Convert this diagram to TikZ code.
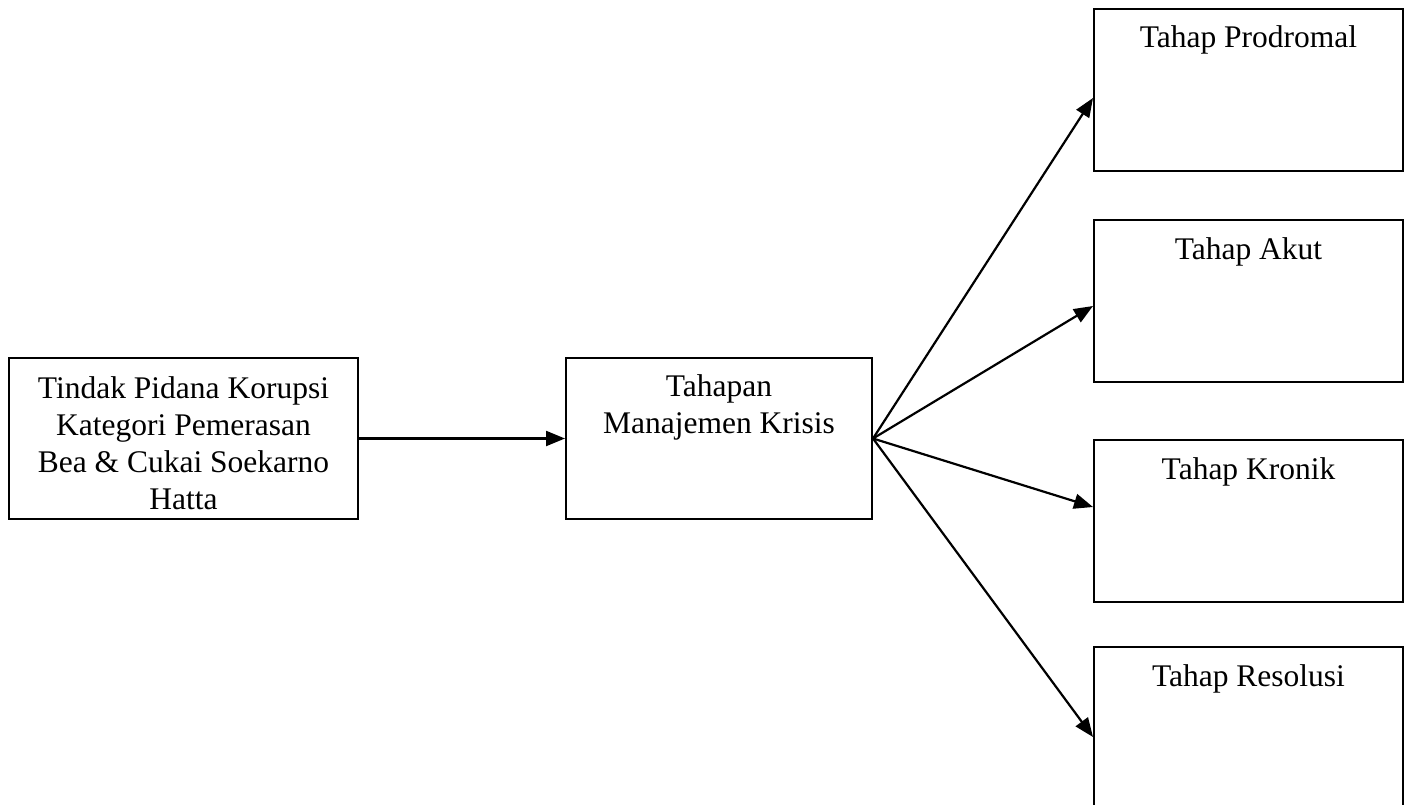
\documentclass[tikz,border=0pt]{standalone}
\usepackage{fontspec}
\setmainfont{Liberation Serif}
\usetikzlibrary{arrows.meta}
\tikzset{
  box/.style={draw=black, line width=2pt, inner sep=0pt, anchor=north west},
  lbl/.style={inner sep=0pt, align=center, font=\fontsize{31.5}{37}\selectfont},
  conn/.style={line width=2.2pt, -{Triangle[length=19pt,width=15pt]}}
}
\begin{document}
\begin{tikzpicture}[x=1pt,y=1pt]
\useasboundingbox (0,0) rectangle (1406,-805);
% boxes
\node[box, minimum width=349pt, minimum height=161pt] (b1) at (8,-357) {};
\node[box, minimum width=306pt, minimum height=161pt] (b2) at (565,-357) {};
\node[box, minimum width=309pt, minimum height=162pt] (p1) at (1093,-8) {};
\node[box, minimum width=309pt, minimum height=162pt] (p2) at (1093,-219) {};
\node[box, minimum width=309pt, minimum height=162pt] (p3) at (1093,-439) {};
\node[box, minimum width=309pt, minimum height=162pt] (p4) at (1093,-646) {};
% texts
\node[lbl, anchor=north] (t1) at ([yshift=-19pt]b1.north) {Tindak Pidana Korupsi\\Kategori Pemerasan\\Bea \& Cukai Soekarno\\Hatta};
\node[lbl, anchor=north] (t2) at ([yshift=-17pt]b2.north) {Tahapan\\Manajemen Krisis};
\node[lbl, anchor=base] (tp1) at ([yshift=-40pt]p1.north) {Tahap Prodromal};
\node[lbl, anchor=base] (tp2) at ([yshift=-40pt]p2.north) {Tahap Akut};
\node[lbl, anchor=base] (tp3) at ([yshift=-40pt]p3.north) {Tahap Kronik};
\node[lbl, anchor=base] (tp4) at ([yshift=-40pt]p4.north) {Tahap Resolusi};
% arrow end points on left edges
\coordinate (e1) at ([yshift=-90pt]p1.north west);
\coordinate (e2) at ([yshift=-87pt]p2.north west);
\coordinate (e3) at ([yshift=-68pt]p3.north west);
\coordinate (e4) at ([yshift=-91pt]p4.north west);
% connectors
\draw[conn] (b1.east) -- (b2.west);
\draw[conn] (b2.east) -- (e1);
\draw[conn] (b2.east) -- (e2);
\draw[conn] (b2.east) -- (e3);
\draw[conn] (b2.east) -- (e4);
\end{tikzpicture}
\end{document}
